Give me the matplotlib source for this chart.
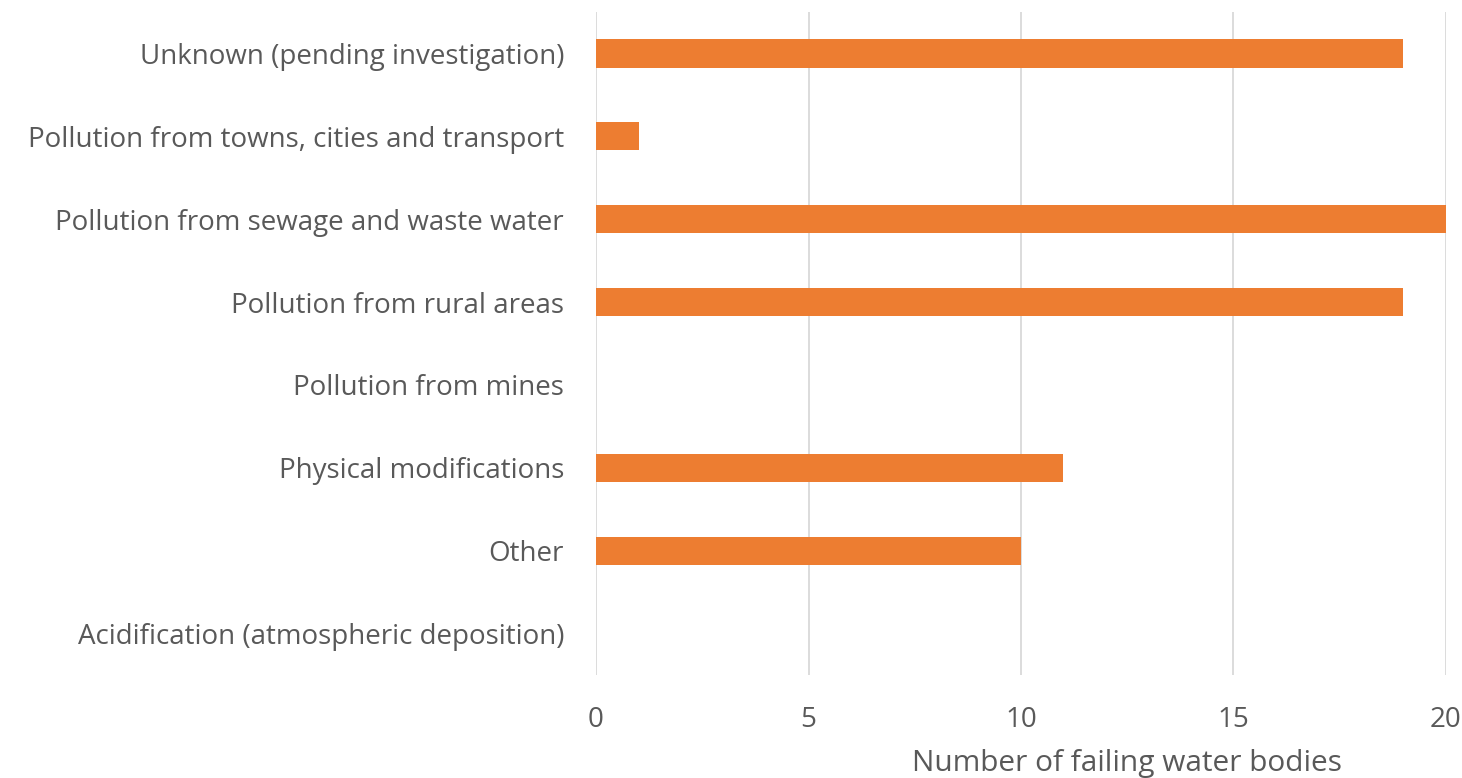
import matplotlib.pyplot as plt

plt.rcParams['font.family'] = ['Open Sans', 'DejaVu Sans']

# categories listed top to bottom
categories = ['Unknown (pending investigation)',
              'Pollution from towns, cities and transport',
              'Pollution from sewage and waste water',
              'Pollution from rural areas',
              'Pollution from mines',
              'Physical modifications',
              'Other',
              'Acidification (atmospheric deposition)']
counts = [19, 1, 20, 19, 0, 11, 10, 0]
xticks = [0, 5, 10, 15, 20]

fig = plt.figure(figsize=(14.62, 7.78), dpi=100)
ax = fig.add_axes([0.4077, 0.1324, 0.5813, 0.8522])

pos = list(range(len(categories)))[::-1]
ax.barh(pos, counts, height=0.34, color='#ED7D31', zorder=2)

ax.set_xlim(0, 20)
ax.set_ylim(-0.5, len(categories) - 0.5)
ax.set_xticks(xticks)
ax.set_yticks(pos)
ax.set_yticklabels(categories)
ax.xaxis.grid(True, color='#D9D9D9', linewidth=1.3, zorder=0)
ax.tick_params(axis='both', length=0, labelsize=20, labelcolor='#595959')
ax.tick_params(axis='x', pad=22)
ax.tick_params(axis='y', pad=23)
for s in ax.spines.values():
    s.set_visible(False)

fig.text(0.771, 0.018, 'Number of failing water bodies', fontsize=21.5,
         color='#595959', ha='center', va='center')

fig.savefig('out.png', dpi=100)
